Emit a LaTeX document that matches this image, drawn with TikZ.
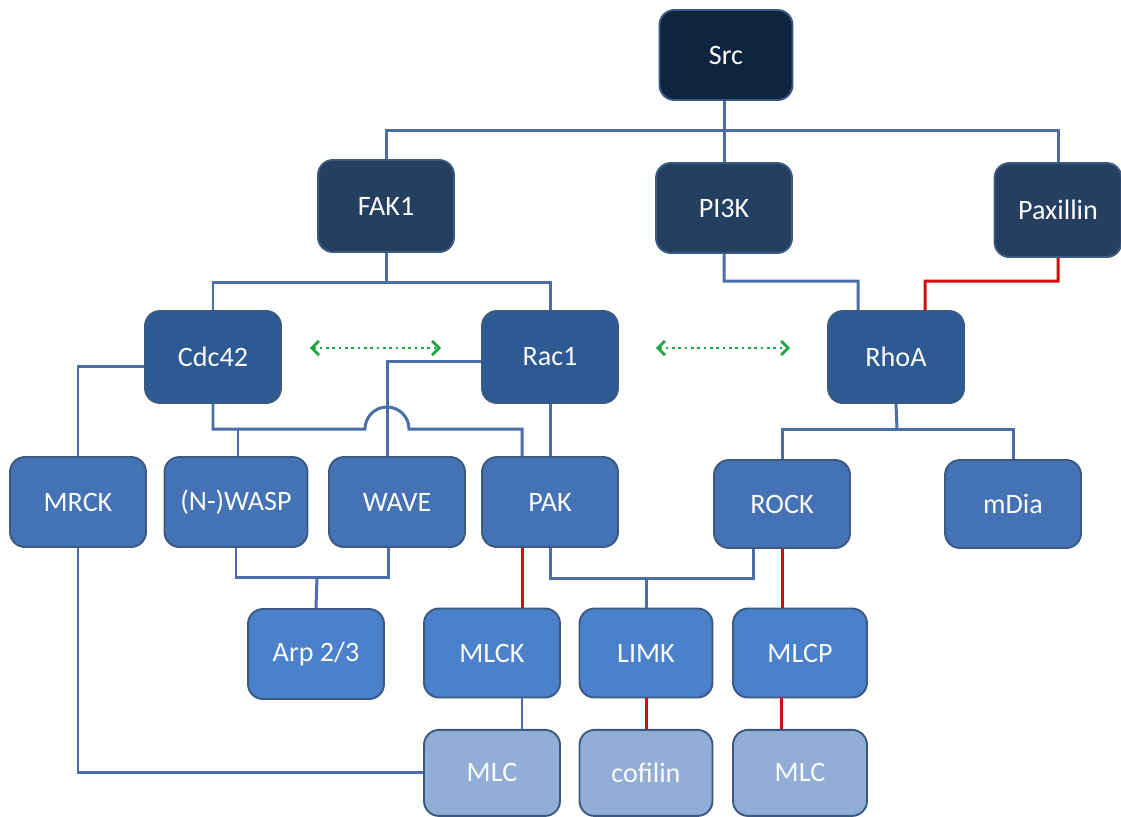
\documentclass[tikz,border=0pt]{standalone}
\usepackage{fontspec}
\setmainfont{Carlito}
\usepackage{tikz}
\usetikzlibrary{positioning, calc, arrows.meta}
\definecolor{lvlA}{HTML}{10243F}
\definecolor{lvlB}{HTML}{243F60}
\definecolor{lvlC}{HTML}{2D5A92}
\definecolor{lvlD}{HTML}{4472B4}
\definecolor{lvlE}{HTML}{4B81CB}
\definecolor{lvlF}{HTML}{93AED6}
\definecolor{edge}{HTML}{3A5A82}
\definecolor{wire}{HTML}{4A6FA8}
\definecolor{inhred}{HTML}{CC1010}
\definecolor{crossgreen}{HTML}{22A645}

\begin{document}
\begin{tikzpicture}[
      x=0.02cm, y=-0.02cm,
      box/.style={draw=edge, line width=1.1pt, rounded corners=8.5pt,
                  minimum height=1.8cm, minimum width=2.72cm,
                  font=\fontsize{16}{18}\selectfont, text=white!95!lvlF, align=center},
      link/.style={draw=wire, line width=1.7pt},
      inh/.style={draw=inhred, line width=1.7pt},
      cross/.style={{Straight Barb[length=4pt, width=8pt]}-{Straight Barb[length=4pt, width=8pt]},
                    crossgreen, line width=1.6pt, dotted},
    ]
    \useasboundingbox (0,0) rectangle (1121,816);

    % ── top ──
    \node[box, fill=lvlA, minimum width=2.66cm] (src) at (726,55) {Src};

    % ── second row ──
    \node[box, fill=lvlB, minimum height=1.84cm] (fak) at (386,206) {FAK1};
    \node[box, fill=lvlB] (pik) at (724,208) {PI3K};
    \node[box, fill=lvlB, minimum width=2.54cm, minimum height=1.88cm] (pax) at (1058,210) {Paxillin};

    % ── GTPases ──
    \node[box, fill=lvlC, minimum height=1.84cm] (cdc) at (213,357) {Cdc42};
    \node[box, fill=lvlC, minimum height=1.84cm] (rac) at (550,357) {Rac1};
    \node[box, fill=lvlC, minimum height=1.84cm] (rho) at (896,357) {RhoA};

    % ── effectors ──
    \node[box, fill=lvlD] (mrck) at (78,502) {MRCK};
    \node[box, fill=lvlD, minimum width=2.86cm] (wasp) at (236,502) {(N-)WASP};
    \node[box, fill=lvlD] (wave) at (397,502) {WAVE};
    \node[box, fill=lvlD] (pak) at (550,502) {PAK};
    \node[box, fill=lvlD, minimum height=1.76cm] (rock) at (782,504) {ROCK};
    \node[box, fill=lvlD, minimum height=1.76cm] (mdia) at (1013,504) {mDia};

    % ── kinases / phosphatase ──
    \node[box, fill=lvlE] (arp) at (316,654) {Arp 2/3};
    \node[box, fill=lvlE, minimum height=1.78cm] (mlck) at (492,653) {MLCK};
    \node[box, fill=lvlE, minimum width=2.66cm, minimum height=1.78cm] (limk) at (646,653) {LIMK};
    \node[box, fill=lvlE, minimum width=2.68cm, minimum height=1.78cm] (mlcp) at (800,653) {MLCP};

    % ── substrates ──
    \node[box, fill=lvlF, minimum height=1.72cm, below=0.61cm of mlck] (mlca) {MLC};
    \node[box, fill=lvlF, minimum width=2.66cm, minimum height=1.72cm, below=0.61cm of limk] (cof) {cofilin};
    \node[box, fill=lvlF, minimum width=2.68cm, minimum height=1.72cm, below=0.61cm of mlcp] (mlcb) {MLC};

    % ── bus points ──
    \coordinate (busA) at (724,130);
    \coordinate (busB) at (386,282);
    \coordinate (busC) at (897,429);
    \coordinate (busD) at (317,577);
    \coordinate (busE) at (646,578);
    \coordinate (hop) at (365,429);

    % ── links ──
    \draw[link] (src.south -| busA) -- (busA);
    \draw[link] (fak.north) |- (busA) -| (pax.north);
    \draw[link] (pik.north) -- (busA);

    \draw[link] (fak.south) -- (busB);
    \draw[link] (cdc.north) |- (busB) -| (rac.north);

    \draw[link] (pik.south) |- ($(rho.north)+(-38,-29)$) -- ([xshift=-0.76cm]rho.north);
    \draw[inh] (pax.south) |- ($(rho.north)+(29,-29)$) -- ([xshift=0.58cm]rho.north);

    \draw[link] ([yshift=-0.18cm]cdc.west) -| (mrck.north);
    \draw[link] (cdc.south) |- (hop) arc[start angle=180, end angle=0, radius=0.44cm]
                -| ([xshift=-0.56cm]pak.north);
    \draw[link] ([xshift=0.04cm]wasp.north) -- ([xshift=0.04cm]wasp.north |- hop);
    \draw[link] ([yshift=-0.08cm]rac.west) -| ([xshift=-0.2cm]wave.north);
    \draw[link] (rac.south) -- (pak.north);

    \draw[link] (rho.south) -- (busC);
    \draw[link] (rock.north) |- (busC) -| (mdia.north);

    \draw[link] (wasp.south) |- (busD) -| ([xshift=-0.18cm]wave.south);
    \draw[link] (arp.north) -- (busD);

    \draw[inh] ([xshift=-0.56cm]pak.south) -- ([xshift=-0.56cm]pak.south |- mlck.north);
    \draw[link] (pak.south) |- (busE) -| ([xshift=-0.58cm]rock.south);
    \draw[link] (limk.north) -- (busE);
    \draw[inh] (rock.south) -- (rock.south |- mlcp.north);

    \draw[link] ([xshift=0.6cm]mlck.south) -- ([xshift=0.6cm]mlck.south |- mlca.north);
    \draw[inh] (limk) -- (cof);
    \draw[inh] ([xshift=-0.38cm]mlcp.south) -- ([xshift=-0.38cm]mlcp.south |- mlcb.north);
    \draw[link] (mrck.south) |- (mlca.west);

    % crosstalk
    \draw[cross] ($(cdc.east)+(28,-9)$) -- ($(rac.west)+(-40,-9)$);
    \draw[cross] ($(rac.east)+(37,-9)$) -- ($(rho.west)+(-37,-9)$);
  \end{tikzpicture}
\end{document}
